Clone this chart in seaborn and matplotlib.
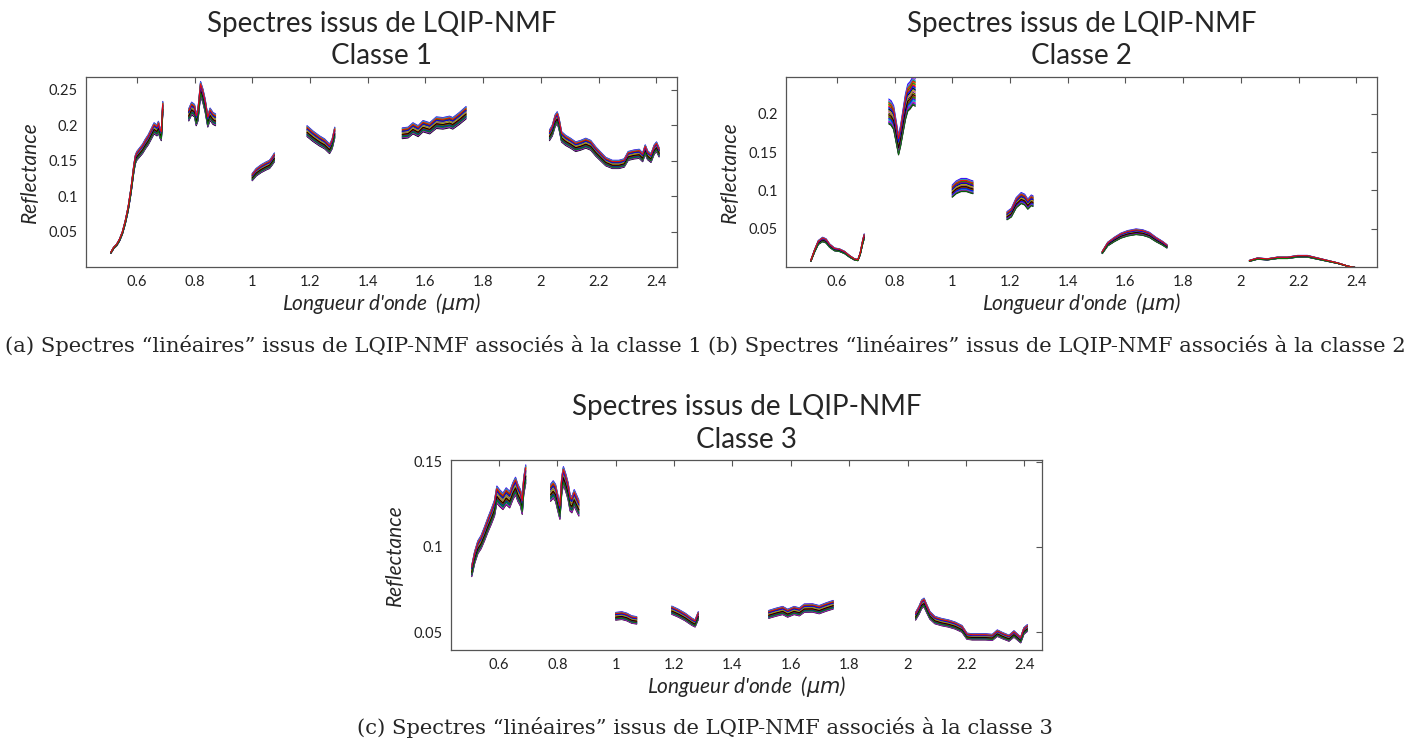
import numpy as np
import pandas as pd
import matplotlib
matplotlib.use("Agg")
import matplotlib.pyplot as plt
import seaborn as sns
from matplotlib.ticker import FormatStrFormatter

NAN = np.nan

# class 1 : mean spectrum, segments separated by NAN (water bands removed)
WL_1 = [0.51, 0.52, 0.53, 0.54, 0.55, 0.56, 0.57, 0.58, 0.59, 0.595, 0.60, 0.61, 0.62, 0.63,
        0.64, 0.65, 0.66, 0.67, 0.675, 0.68, 0.685, 0.69, NAN,
        0.78, 0.79, 0.80, 0.806, 0.812, 0.821, 0.829, 0.837, 0.846, 0.854, 0.864, 0.873, NAN,
        1.0, 1.014, 1.031, 1.049, 1.060, 1.069, 1.077, NAN,
        1.19, 1.21, 1.234, 1.251, 1.268, 1.277, 1.286, NAN,
        1.52, 1.54, 1.557, 1.575, 1.592, 1.615, 1.638, 1.661, 1.684, 1.695, 1.718, 1.741, NAN,
        2.03, 2.04, 2.05, 2.057, 2.063, 2.072, 2.086, 2.103, 2.121, 2.138, 2.156, 2.173, 2.191,
        2.208, 2.225, 2.248, 2.271, 2.289, 2.303, 2.323, 2.341, 2.353, 2.362, 2.370, 2.382,
        2.393, 2.401, 2.41]
R_1 = [0.020, 0.027, 0.031, 0.038, 0.048, 0.063, 0.082, 0.108, 0.140, 0.152, 0.157, 0.162, 0.167, 0.174,
       0.180, 0.188, 0.196, 0.193, 0.198, 0.190, 0.186, 0.225, NAN,
       0.215, 0.224, 0.221, 0.208, 0.215, 0.252, 0.242, 0.228, 0.206, 0.216, 0.210, 0.208, NAN,
       0.127, 0.134, 0.139, 0.143, 0.145, 0.150, 0.155, NAN,
       0.192, 0.185, 0.178, 0.174, 0.167, 0.174, 0.190, NAN,
       0.189, 0.190, 0.196, 0.192, 0.199, 0.196, 0.204, 0.203, 0.205, 0.203, 0.210, 0.218, NAN,
       0.186, 0.193, 0.207, 0.211, 0.203, 0.184, 0.179, 0.175, 0.170, 0.172, 0.175, 0.172, 0.163,
       0.156, 0.149, 0.145, 0.145, 0.147, 0.157, 0.159, 0.160, 0.155, 0.166, 0.158, 0.154,
       0.166, 0.170, 0.162]

# class 2
WL_2 = [0.51, 0.523, 0.536, 0.551, 0.563, 0.575, 0.592, 0.609, 0.627, 0.644, 0.661, 0.673, 0.681,
        0.69, 0.695, NAN,
        0.78, 0.788, 0.797, 0.806, 0.814, 0.821, 0.829, 0.838, 0.846, 0.854, 0.864, 0.872, NAN,
        1.0, 1.014, 1.031, 1.049, 1.063, 1.072, NAN,
        1.19, 1.205, 1.222, 1.239, 1.251, 1.262, 1.274, 1.28, NAN,
        1.52, 1.539, 1.562, 1.585, 1.608, 1.637, 1.66, 1.683, 1.706, 1.729, 1.744, NAN,
        2.03, 2.058, 2.092, 2.127, 2.162, 2.197, 2.231, 2.266, 2.301, 2.336, 2.371, 2.40]
R_2 = [0.008, 0.021, 0.032, 0.036, 0.034, 0.028, 0.023, 0.022, 0.019, 0.014, 0.010, 0.009, 0.017,
       0.033, 0.040, NAN,
       0.203, 0.201, 0.195, 0.176, 0.159, 0.171, 0.189, 0.209, 0.221, 0.224, 0.230, 0.228, NAN,
       0.099, 0.104, 0.107, 0.107, 0.105, 0.104, NAN,
       0.067, 0.071, 0.084, 0.090, 0.088, 0.082, 0.087, 0.086, NAN,
       0.019, 0.030, 0.036, 0.041, 0.044, 0.046, 0.045, 0.042, 0.036, 0.031, 0.027, NAN,
       0.008, 0.011, 0.010, 0.012, 0.012, 0.014, 0.014, 0.011, 0.008, 0.005, 0.001, -0.001]

# class 3
WL_3 = [0.507, 0.517, 0.528, 0.539, 0.551, 0.562, 0.574, 0.585, 0.593, 0.602, 0.614, 0.625, 0.637,
        0.648, 0.657, 0.665, 0.674, 0.680, 0.685, 0.692, NAN,
        0.777, 0.786, 0.794, 0.802, 0.809, 0.815, 0.821, 0.829, 0.837, 0.844, 0.850, 0.858, 0.866,
        0.874, NAN,
        1.0, 1.021, 1.038, 1.055, 1.072, NAN,
        1.192, 1.215, 1.238, 1.261, 1.272, 1.283, NAN,
        1.524, 1.549, 1.572, 1.589, 1.611, 1.629, 1.646, 1.674, 1.697, 1.72, 1.745, NAN,
        2.027, 2.039, 2.048, 2.056, 2.065, 2.076, 2.093, 2.116, 2.139, 2.162, 2.186, 2.203, 2.221,
        2.244, 2.267, 2.29, 2.307, 2.324, 2.347, 2.364, 2.376, 2.387, 2.398, 2.41]
R_3 = [0.086, 0.094, 0.100, 0.103, 0.108, 0.113, 0.118, 0.123, 0.131, 0.129, 0.127, 0.130, 0.128,
       0.133, 0.136, 0.132, 0.129, 0.124, 0.136, 0.143, NAN,
       0.132, 0.134, 0.132, 0.126, 0.121, 0.136, 0.142, 0.138, 0.133, 0.126, 0.125, 0.129, 0.126,
       0.123, NAN,
       0.0594, 0.0598, 0.0590, 0.0575, 0.0570, NAN,
       0.0630, 0.0612, 0.0590, 0.0562, 0.0552, 0.0598, NAN,
       0.0605, 0.0618, 0.0628, 0.0612, 0.0628, 0.0620, 0.0642, 0.0643, 0.0633, 0.0648, 0.0662, NAN,
       0.0594, 0.0630, 0.0665, 0.0675, 0.0640, 0.0600, 0.0572, 0.0560, 0.0552, 0.0540, 0.0520,
       0.0477, 0.0473, 0.0473, 0.0473, 0.0470, 0.0495, 0.0481, 0.0465, 0.0490, 0.0472, 0.0455,
       0.0508, 0.0525]

# scale factor of each individual spectrum around the mean (bundle width)
SPREAD_1 = [0.962, 1.031, 0.978, 1.008, 0.969, 1.024, 0.992, 1.038, 0.985, 1.015, 0.973,
            1.000, 1.027, 0.958, 1.004, 0.981, 1.019, 0.966, 1.035, 0.996, 1.011,
            0.975, 1.021, 0.988, 1.033, 0.964, 1.006, 0.990, 1.013, 0.971, 1.026]
SPREAD_2 = [0.930, 1.060, 0.960, 1.020, 0.940, 1.050, 0.990, 1.080, 0.970, 1.030, 0.950,
            1.000, 1.040, 0.920, 1.010, 0.965, 1.035, 0.945, 1.070, 0.985, 1.015,
            0.955, 1.045, 0.975, 1.065, 0.935, 1.005, 0.980, 1.025, 0.925, 1.055]
SPREAD_3 = [0.965, 1.030, 0.978, 1.008, 0.970, 1.024, 0.992, 1.036, 0.985, 1.015, 0.974,
            1.000, 1.027, 0.960, 1.004, 0.981, 1.019, 0.967, 1.033, 0.996, 1.011,
            0.976, 1.021, 0.988, 1.031, 0.963, 1.006, 0.990, 1.013, 0.972, 1.025]

YTICKS_1 = [0.05, 0.1, 0.15, 0.2, 0.25]
YTICKS_2 = [0.05, 0.1, 0.15, 0.2]
YTICKS_3 = [0.05, 0.1, 0.15]
XTICKS = [0.6, 0.8, 1.0, 1.2, 1.4, 1.6, 1.8, 2.0, 2.2, 2.4]

CAPTIONS = [
    "(a) Spectres \u201clin\u00e9aires\u201d issus de LQIP-NMF associ\u00e9s \u00e0 la classe 1",
    "(b) Spectres \u201clin\u00e9aires\u201d issus de LQIP-NMF associ\u00e9s \u00e0 la classe 2",
    "(c) Spectres \u201clin\u00e9aires\u201d issus de LQIP-NMF associ\u00e9s \u00e0 la classe 3",
]

# old matplotlib colour cycle
CLASSIC = ["#0000ff", "#008000", "#ff0000", "#00bfbf", "#bf00bf", "#bfbf00", "#000000"]
SANS = ["Lato", "DejaVu Sans"]


def spectra_frame(wl, refl, spread):
    wl = np.asarray(wl, dtype=float)
    refl = np.asarray(refl, dtype=float)
    seg = np.cumsum(np.isnan(wl))
    keep = ~np.isnan(wl)
    frames = []
    for i, f in enumerate(spread):
        frames.append(pd.DataFrame({
            "wl": wl[keep],
            "refl": refl[keep] * f,
            "seg": seg[keep],
            "spectre": i,
        }))
    return pd.concat(frames, ignore_index=True)


def draw_panel(ax, wl, refl, spread, classe, yticks, xlim, ylim):
    df = spectra_frame(wl, refl, spread)
    palette = [CLASSIC[i % len(CLASSIC)] for i in range(len(spread))]
    sns.lineplot(data=df, x="wl", y="refl", hue="spectre", units="seg", estimator=None,
                 sort=False, palette=palette, legend=False, linewidth=0.8, alpha=0.9, ax=ax)
    ax.set_xlim(*xlim)
    ax.set_ylim(*ylim)
    ax.set_xticks(XTICKS)
    ax.set_yticks(yticks)
    ax.xaxis.set_major_formatter(FormatStrFormatter("%g"))
    ax.yaxis.set_major_formatter(FormatStrFormatter("%g"))
    ax.tick_params(direction="in", top=True, right=True, length=4, width=0.8,
                   color="#555555", labelsize=10.5, pad=6)
    for lab in ax.get_xticklabels() + ax.get_yticklabels():
        lab.set_family(SANS)
        lab.set_color("#222222")
    for sp in ax.spines.values():
        sp.set_color("#555555")
        sp.set_linewidth(0.9)
    ax.set_title(f"Spectres issus de LQIP-NMF\nClasse {classe}", family=SANS,
                 fontsize=20, pad=9, linespacing=1.3)
    ax.set_xlabel(r"Longueur d'onde  ($\mu m$)", family=SANS, style="italic",
                  fontsize=15, labelpad=1)
    ax.set_ylabel("Reflectance", family=SANS, style="italic", fontsize=15, labelpad=6)


def main():
    sns.set_theme(style="white")
    plt.rcParams["font.family"] = SANS
    plt.rcParams["mathtext.fontset"] = "dejavusans"

    fig = plt.figure(figsize=(14.1, 7.4), dpi=100)
    ax1 = fig.add_axes([86 / 1410, 1 - 267 / 740, 591 / 1410, 190 / 740])
    ax2 = fig.add_axes([786 / 1410, 1 - 267 / 740, 591 / 1410, 190 / 740])
    ax3 = fig.add_axes([451 / 1410, 1 - 650 / 740, 591 / 1410, 190 / 740])

    draw_panel(ax1, WL_1, R_1, SPREAD_1, 1, YTICKS_1, (0.424, 2.472), (0.0, 0.268))
    draw_panel(ax2, WL_2, R_2, SPREAD_2, 2, YTICKS_2, (0.424, 2.472), (0.0, 0.248))
    draw_panel(ax3, WL_3, R_3, SPREAD_3, 3, YTICKS_3, (0.436, 2.46), (0.0395, 0.151))

    cap_kw = dict(family="DejaVu Serif", fontsize=15.2, va="center")
    fig.text(5 / 1410, 1 - 346 / 740, CAPTIONS[0], ha="left", **cap_kw)
    fig.text(708 / 1410, 1 - 346 / 740, CAPTIONS[1], ha="left", **cap_kw)
    fig.text(705 / 1410, 1 - 727 / 740, CAPTIONS[2], ha="center", **cap_kw)

    fig.savefig("out.png", dpi=100, facecolor="white")
    plt.close(fig)


if __name__ == "__main__":
    main()
